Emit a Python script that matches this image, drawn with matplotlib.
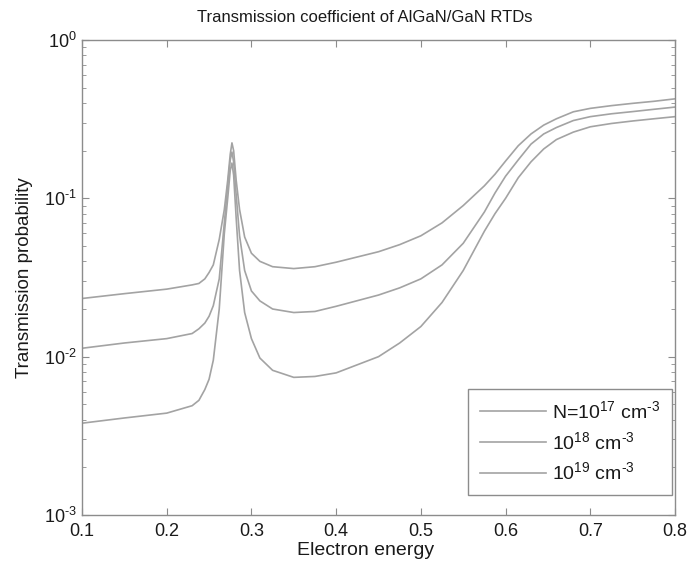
import matplotlib
matplotlib.use("Agg")
import matplotlib.pyplot as plt

plt.rcParams["font.family"] = ["Liberation Sans", "DejaVu Sans"]
plt.rcParams["mathtext.fontset"] = "custom"
plt.rcParams["mathtext.rm"] = "Liberation Sans"
plt.rcParams["mathtext.it"] = "Liberation Sans:italic"
plt.rcParams["mathtext.bf"] = "Liberation Sans:bold"
plt.rcParams["axes.unicode_minus"] = False

# --- data ---
energy = [0.10, 0.15, 0.20, 0.23, 0.238, 0.245, 0.25, 0.255, 0.262, 0.268,
          0.272, 0.275, 0.277, 0.279, 0.282, 0.286, 0.292, 0.30, 0.31, 0.325,
          0.35, 0.375, 0.40, 0.45, 0.475, 0.50, 0.525, 0.55, 0.575, 0.5875,
          0.60, 0.615, 0.63, 0.645, 0.66, 0.68, 0.70, 0.725, 0.75, 0.775, 0.80]

t_high = [0.0233, 0.0250, 0.0267, 0.0284, 0.029, 0.031, 0.034, 0.038, 0.055, 0.085,
          0.13, 0.19, 0.224, 0.20, 0.13, 0.085, 0.057, 0.045, 0.040, 0.037,
          0.036, 0.037, 0.0395, 0.046, 0.051, 0.058, 0.070, 0.090, 0.120, 0.142,
          0.172, 0.215, 0.255, 0.29, 0.318, 0.352, 0.37, 0.385, 0.398, 0.41, 0.425]

t_mid = [0.0113, 0.0122, 0.0130, 0.0140, 0.0150, 0.0163, 0.018, 0.021, 0.031, 0.07,
         0.12, 0.175, 0.196, 0.17, 0.105, 0.058, 0.035, 0.026, 0.0225, 0.0200,
         0.0190, 0.0193, 0.0208, 0.0245, 0.0272, 0.031, 0.038, 0.052, 0.082, 0.108,
         0.138, 0.175, 0.22, 0.255, 0.28, 0.31, 0.328, 0.342, 0.353, 0.365, 0.377]

t_low = [0.0038, 0.0041, 0.0044, 0.0049, 0.0053, 0.0062, 0.0072, 0.0095, 0.020, 0.06,
         0.10, 0.15, 0.167, 0.14, 0.075, 0.035, 0.019, 0.013, 0.0098, 0.0082,
         0.0074, 0.0075, 0.0079, 0.0100, 0.0122, 0.0155, 0.022, 0.035, 0.062, 0.08,
         0.10, 0.135, 0.17, 0.205, 0.235, 0.262, 0.283, 0.297, 0.308, 0.318, 0.328]

labels = ["N=10$^{17}$ cm$^{\u20103}$", "10$^{18}$ cm$^{\u20103}$", "10$^{19}$ cm$^{\u20103}$"]

x_ticks = [0.1, 0.2, 0.3, 0.4, 0.5, 0.6, 0.7, 0.8]
x_labels = ["0.1", "0.2", "0.3", "0.4", "0.5", "0.6", "0.7", "0.8"]
y_ticks = [1e-3, 1e-2, 1e-1, 1]
y_labels = ["10$^{\u20103}$", "10$^{\u20102}$", "10$^{\u20101}$", "10$^{0}$"]

line_col = "#a3a3a3"
axis_col = "#8c8c8c"
text_col = "#1a1a1a"

fig = plt.figure(figsize=(6.89, 5.68), dpi=100)
ax = fig.add_axes([82 / 689, 1 - 515 / 568, (675 - 82) / 689, (515 - 40) / 568])

for series, lab in zip([t_low, t_mid, t_high], labels):
    ax.plot(energy, series, color=line_col, lw=1.2, label=lab)

ax.set_yscale("log")
ax.set_xlim(0.1, 0.8)
ax.set_ylim(1e-3, 1)
ax.set_xticks(x_ticks)
ax.set_xticklabels(x_labels)
ax.set_yticks(y_ticks)
ax.set_yticklabels(y_labels)

for s in ax.spines.values():
    s.set_color(axis_col)
    s.set_linewidth(1.0)
ax.tick_params(which="both", direction="in", top=True, right=True,
               color=axis_col, labelcolor=text_col, labelsize=13)
ax.tick_params(which="major", length=5)
ax.tick_params(which="minor", length=3)
ax.tick_params(axis="x", pad=6)

ax.set_xlabel("Electron energy", fontsize=14, color=text_col, labelpad=1)
ax.xaxis.label.set_x((366 - 82) / 593)
ax.set_ylabel("Transmission probability", fontsize=13.5, color=text_col, labelpad=8)
ax.set_title("Transmission coefficient of AlGaN/GaN RTDs", fontsize=12,
             color=text_col, x=(365 - 82) / 593, pad=13)

leg = ax.legend(loc="lower right", bbox_to_anchor=(0.995, 0.042), fontsize=14,
                handlelength=3.4, handletextpad=0.32, labelspacing=0.45,
                borderpad=0.6, borderaxespad=0, fancybox=False, framealpha=1)
leg.get_frame().set_edgecolor(axis_col)
leg.get_frame().set_linewidth(1.0)
for t in leg.get_texts():
    t.set_color(text_col)

fig.savefig("out.png", dpi=100)
